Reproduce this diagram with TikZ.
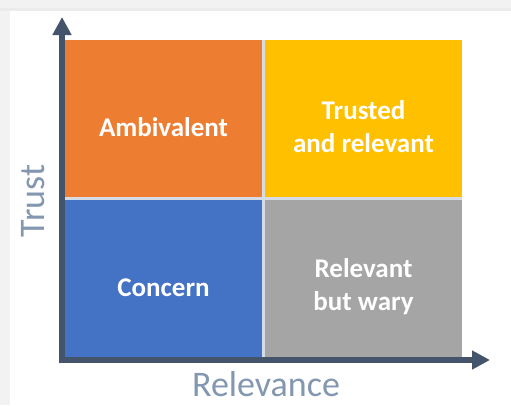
\documentclass[tikz,border=0pt]{standalone}
\usepackage{fontspec}
\setmainfont{Carlito}
\usepackage{tikz}
\usetikzlibrary{arrows.meta, positioning}
\definecolor{axiscol}{HTML}{44546A}
\definecolor{labelcol}{HTML}{8497B0}
\definecolor{gapcol}{HTML}{D6DCE5}
\definecolor{qorange}{HTML}{ED7D31}
\definecolor{qyellow}{HTML}{FFC000}
\definecolor{qblue}{HTML}{4472C4}
\definecolor{qgray}{HTML}{A5A5A5}
\tikzstyle{quad} = [rectangle, minimum width=197pt, minimum height=157pt, outer sep=0pt, inner sep=0pt]
\tikzstyle{quadtext} = [text=white, font=\fontsize{27}{33}\selectfont\bfseries, align=center]
\tikzstyle{axislabel} = [text=labelcol, font=\fontsize{36}{40}\selectfont]
\tikzstyle{axis} = [draw=axiscol, line width=6pt, -{Triangle[length=18pt, width=18pt]}]

\begin{document}
\begin{tikzpicture}[x=1pt, y=-1pt]
        % frame
        \fill[gray!10] (0,0) rectangle (511,405);
        \fill[gray!16] (0,8) rectangle (511,11);
        \fill[white] (10,11) rectangle (511,405);
        \useasboundingbox (0,0) rectangle (511,405);

        % quadrants
        \node[quad, fill=qorange] (ambivalent) at (163.5,118.5) {};
        \node[quad, fill=qyellow, right=3pt of ambivalent] (trusted) {};
        \node[quad, fill=qblue, below=3pt of ambivalent] (concern) {};
        \node[quad, fill=qgray, below=3pt of trusted] (wary) {};
        % light gaps between the cells
        \fill[gapcol] (ambivalent.north east) rectangle (wary.south west);
        \fill[gapcol] (ambivalent.south west) rectangle (wary.north east);

        \node[quadtext] at ([yshift=-9pt]ambivalent.center) {Ambivalent};
        \node[quadtext] at ([yshift=-8pt]trusted.center) {Trusted\\and relevant};
        \node[quadtext] at ([yshift=-9pt]concern.center) {Concern};
        \node[quadtext] at ([yshift=-8pt]wary.center) {Relevant\\but wary};

        % axes
        \coordinate (origin) at (62,363);
        \coordinate (ytop) at (62,17);
        \coordinate (xend) at (490,360);
        \draw[axis] (origin) -- (ytop);
        \draw[axis] (59,360) -- (xend);

        \node[axislabel, rotate=90] (trust) at (33,201) {Trust};
        \node[axislabel] (relevance) at (266,384) {Relevance};
    \end{tikzpicture}
\end{document}
